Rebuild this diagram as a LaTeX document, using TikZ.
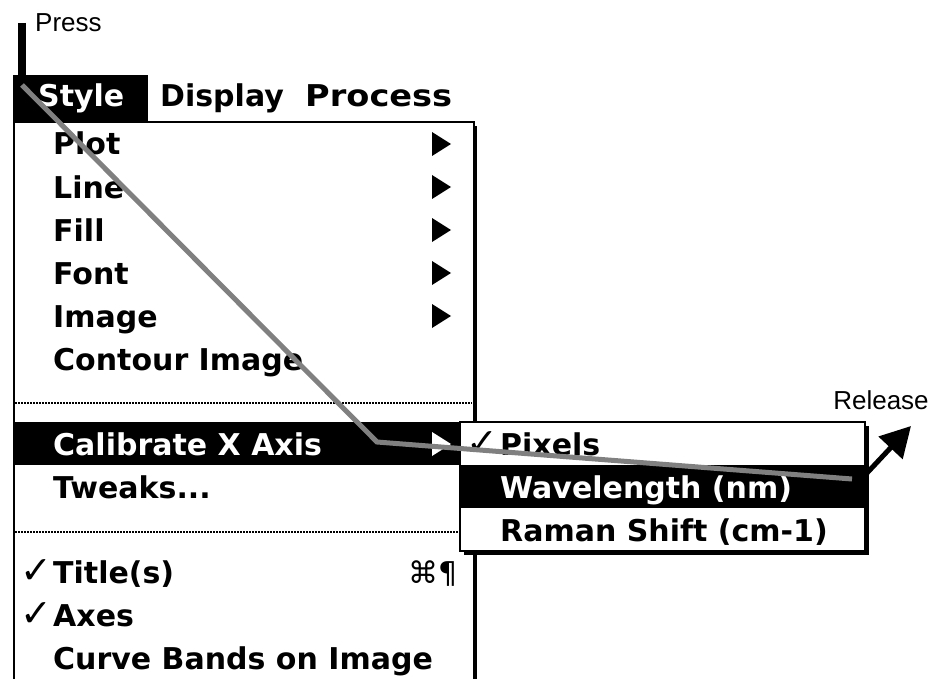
\documentclass[tikz,border=0pt]{standalone}
\usepackage{fontspec}
\setmainfont{Liberation Sans}
\newfontfamily\menufont{DejaVu Sans}
\newfontfamily\symfont{DejaVu Sans}
\usepackage{tikz}
\usetikzlibrary{arrows.meta}

\begin{document}
\begin{tikzpicture}[x=1pt,y=-1pt,
    item/.style={anchor=base west,inner sep=0pt,
      font=\menufont\bfseries\fontsize{30}{36}\selectfont},
    hitem/.style={item,text=white},
    tick/.style={anchor=base west,inner sep=0pt,
      font=\symfont\fontsize{38}{44}\selectfont},
    note/.style={inner sep=0pt,font=\fontsize{26}{30}\selectfont},
    sep/.style={line width=1.5pt,dash pattern=on 1.5pt off 1.5pt}]
    \useasboundingbox (0,0) rectangle (931,679);

    % press marker
    \draw [line width=8pt] (22,23) -- (22,75);
    \node [note,anchor=west] (press) at (35,23) {Press};

    % drop-down box
    \fill [black] (473,126) rectangle (477,679);
    \fill [white] (14,122) rectangle (473,679);
    \draw [line width=2pt] (14,679) -- (14,122) -- (474,122) -- (474,679);

    % menu bar
    \fill [black] (13,75) rectangle (148,122);
    \node [hitem] (style) at (38,107) {Style};
    \node [item] (display) at (160,107) {Display};
    \node [item,xscale=1.12] (process) at (305,107) {Process};

    \node [item] (plot) at (53,155) {Plot};
    \node [item] (line) at (53,198) {Line};
    \node [item] (fill) at (53,241) {Fill};
    \node [item] (font) at (53,284) {Font};
    \node [item] (image) at (53,327) {Image};
    \node [item] (contour) at (53,370) {Contour Image};
    \fill (432,132) -- (451,144) -- (432,156) -- cycle;
    \fill (432,175) -- (451,187) -- (432,199) -- cycle;
    \fill (432,218) -- (451,230) -- (432,242) -- cycle;
    \fill (432,261) -- (451,273) -- (432,285) -- cycle;
    \fill (432,304) -- (451,316) -- (432,328) -- cycle;

    \draw [sep] (15,403) -- (472,403);
    \fill [black] (15,422) rectangle (460,465);
    \node [hitem] (calib) at (53,455) {Calibrate X Axis};
    \fill [white] (432,432) -- (451,444) -- (432,456) -- cycle;
    \node [item] (tweaks) at (53,498) {Tweaks...};
    \draw [sep] (15,532) -- (472,532);

    \node [tick] (chk1) at (20,583) {✓};
    \node [item] (titles) at (53,583) {Title(s)};
    \node [tick,anchor=base east,font=\symfont\fontsize{30}{36}\selectfont] (cmd) at (458,583) {⌘¶};
    \node [tick] (chk2) at (20,626) {✓};
    \node [item] (axes) at (53,626) {Axes};
    \node [item] (bands) at (53,669) {Curve Bands on Image};

    % sub menu
    \fill [black] (464,426) rectangle (869,555);
    \fill [white] (460,422) rectangle (865,551);
    \fill [black] (460,465) rectangle (865,508);
    \draw [line width=2pt] (460,422) rectangle (865,551);
    \node [tick] (chk3) at (466,455) {✓};
    \node [item] (pixels) at (500,455) {Pixels};
    \node [hitem] (wavelength) at (500,498) {Wavelength (nm)};
    \node [item] (raman) at (500,541) {Raman Shift (cm-1)};

    % drag path
    \coordinate (start) at (22,85);
    \coordinate (turn) at (377,442);
    \coordinate (stop) at (852,479);
    \draw [gray,line width=5pt] (start) -- (turn) -- (stop);

    \node [note] (release) at (881,400) {Release};
    \coordinate (tail) at (867,473);
    \coordinate (tip) at (911,426);
    \draw [line width=5pt,-{Triangle[length=30pt,width=32pt]}] (tail) -- (tip);
\end{tikzpicture}
\end{document}
